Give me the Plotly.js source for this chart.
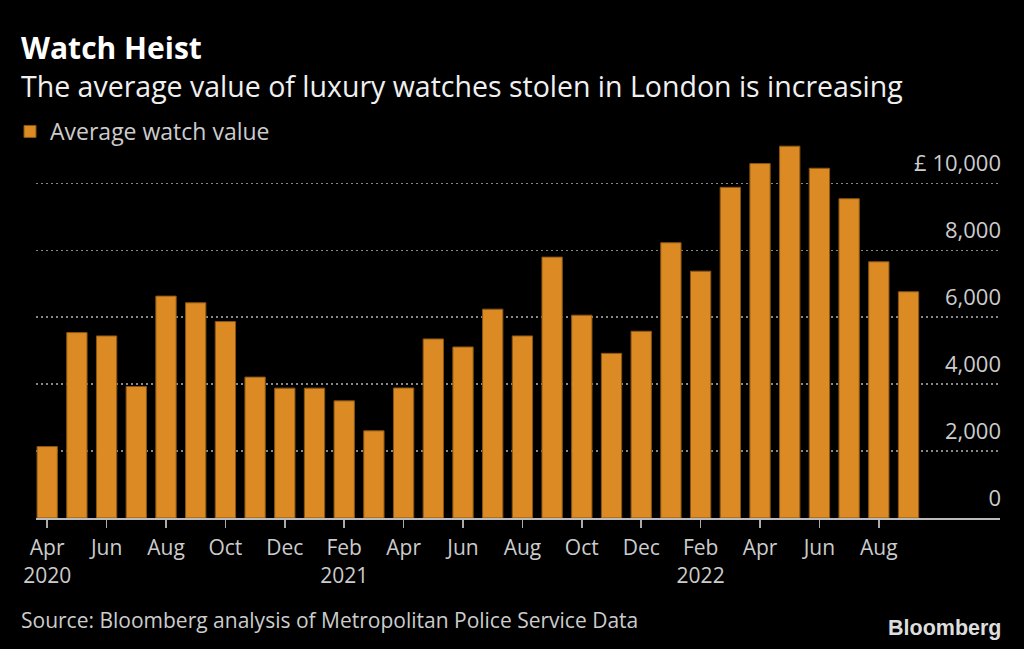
<!DOCTYPE html>
<html>
<head>
<meta charset="utf-8">
<script src="https://cdn.plot.ly/plotly-3.0.1.min.js"></script>
<style>
html,body{margin:0;padding:0;background:#000;}
#chart{width:1024px;height:649px;}
</style>
</head>
<body>
<div id="chart"></div>
<script>
// ---- data ----
const months = ["2020-04","2020-05","2020-06","2020-07","2020-08","2020-09","2020-10","2020-11","2020-12",
  "2021-01","2021-02","2021-03","2021-04","2021-05","2021-06","2021-07","2021-08","2021-09","2021-10","2021-11","2021-12",
  "2022-01","2022-02","2022-03","2022-04","2022-05","2022-06","2022-07","2022-08","2022-09"];
const avgWatchValue = [2135,5540,5440,3930,6630,6430,5870,4210,3880,
  3880,3500,2605,3885,5350,5110,6240,5440,7795,6060,4920,5580,
  8225,7375,9880,10590,11110,10450,9540,7655,6760];
const xTickVals = ["2020-04","2020-06","2020-08","2020-10","2020-12","2021-02","2021-04","2021-06","2021-08","2021-10","2021-12","2022-02","2022-04","2022-06","2022-08"];
const xTickText = ["Apr<br>2020","Jun","Aug","Oct","Dec","Feb<br>2021","Apr","Jun","Aug","Oct","Dec","Feb<br>2022","Apr","Jun","Aug"];
const yTickVals = [0,2000,4000,6000,8000,10000];
const yTickText = ["0","2,000","4,000","6,000","8,000","£ 10,000"];
const seriesName = "Average watch value";
const titleText = "<b>Watch Heist</b>";
const subtitleText = "The average value of luxury watches stolen in London is increasing";
const sourceText = "Source: Bloomberg analysis of Metropolitan Police Service Data";
const logoText = "<b>Bloomberg</b>";

// ---- layout helpers (pixel -> paper) ----
const W = 1024, H = 649;
const M = {l:36, r:24, t:140, b:131, autoexpand:false};
const pw = W - M.l - M.r, ph = H - M.t - M.b;
const px = x => (x - M.l) / pw;
const py = y => (H - M.b - y) / ph;

const FONT = "Open Sans, Noto Sans, sans-serif";

const trace = {
  type: "bar",
  x: months,
  y: avgWatchValue,
  name: seriesName,
  marker: {color: "#DB8A24", line: {color: "#8A5512", width: 1}},
  showlegend: true
};

const layout = {
  width: W, height: H,
  paper_bgcolor: "#000", plot_bgcolor: "#000",
  margin: M,
  bargap: 0.316,
  font: {family: FONT, color: "#cccccc", size: 21},
  showlegend: true,
  legend: {
    xref: "container", yref: "container",
    x: 10/W, y: 1 - 110/H, xanchor: "left", yanchor: "top",
    bgcolor: "rgba(0,0,0,0)",
    font: {family: FONT, size: 23, color: "#cccccc"},
    itemclick: false
  },
  xaxis: {
    type: "category",
    range: [-0.377, 32.08],
    tickmode: "array",
    tickvals: xTickVals,
    ticktext: xTickText,
    ticks: "outside", ticklen: 8, tickwidth: 1.5, tickcolor: "#aaaaaa",
    ticklabelstandoff: 2,
    showline: true, linecolor: "#bbbbbb", linewidth: 2,
    showgrid: false, zeroline: false,
    tickangle: 0,
    tickfont: {family: FONT, size: 21, color: "#cccccc"},
    fixedrange: true
  },
  yaxis: {
    range: [0, 11294],
    side: "right",
    tickmode: "array",
    tickvals: yTickVals,
    ticktext: yTickText,
    ticklabelposition: "inside",
    ticklabelshift: -20,
    ticklabelstandoff: -4,
    ticks: "",
    showgrid: true, gridcolor: "#888888", gridwidth: 1.5, griddash: "2px,3px",
    zeroline: false, showline: false,
    tickfont: {family: FONT, size: 22, color: "#cccccc"},
    fixedrange: true
  },
  annotations: [
    {text: titleText, xref: "paper", yref: "paper", x: px(19), y: py(48), xanchor: "left", yanchor: "middle",
     showarrow: false, font: {family: FONT, size: 30, color: "#ffffff"}},
    {text: subtitleText, xref: "paper", yref: "paper", x: px(19), y: py(86), xanchor: "left", yanchor: "middle",
     showarrow: false, font: {family: FONT, size: 28.5, color: "#f0f0f0"}},
    {text: sourceText, xref: "paper", yref: "paper", x: px(19), y: py(620), xanchor: "left", yanchor: "middle",
     showarrow: false, font: {family: FONT, size: 21, color: "#cccccc"}},
    {text: logoText, xref: "paper", yref: "paper", x: px(1003), y: py(628), xanchor: "right", yanchor: "middle",
     showarrow: false, font: {family: "Liberation Sans, Arial, sans-serif", size: 21.5, color: "#dddddd"}}
  ]
};

Plotly.newPlot("chart", [trace], layout, {displayModeBar: false, staticPlot: true});
</script>
</body>
</html>
